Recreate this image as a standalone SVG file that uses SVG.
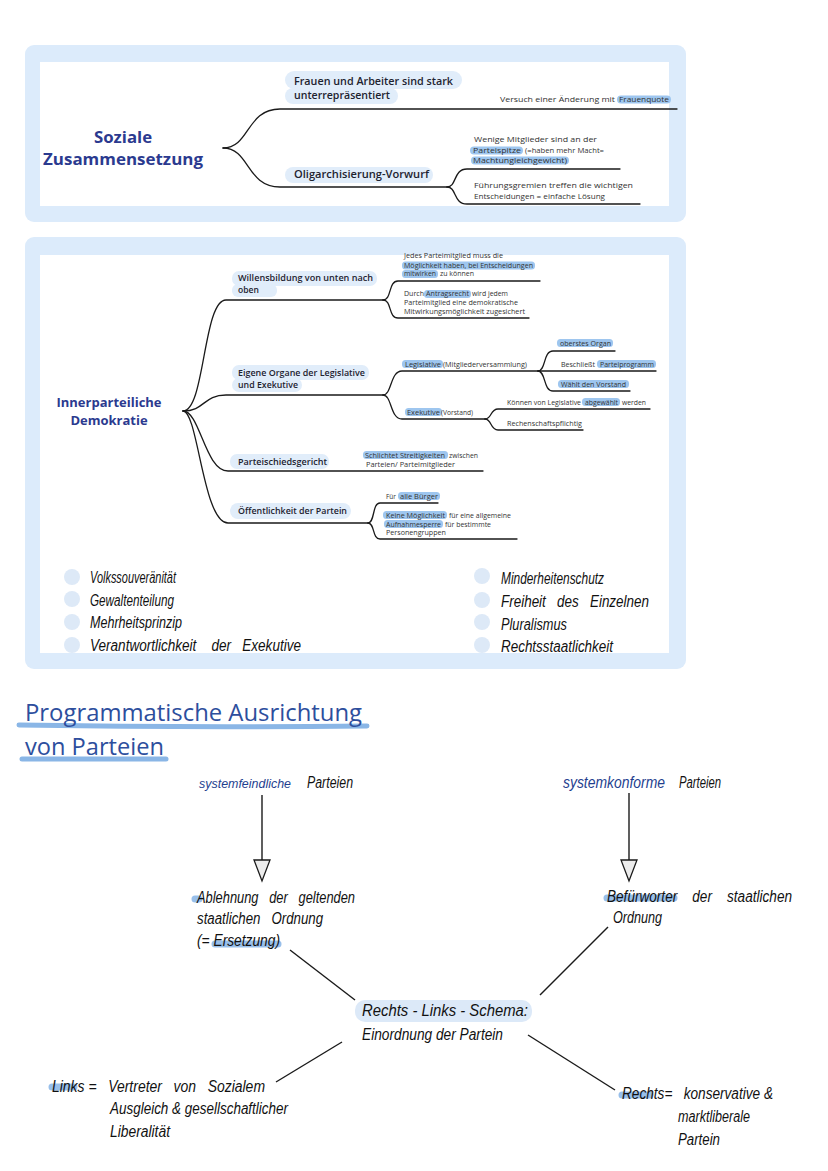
<svg xmlns="http://www.w3.org/2000/svg" width="828" height="1171" viewBox="0 0 828 1171">
<style>
.panel{fill:#dcebfb}
.inner{fill:#ffffff}
.root{font-family:"Open Sans","Noto Sans",sans-serif;font-weight:700;fill:#2b3a8f;text-anchor:middle}
.lbl{font-family:"Open Sans","Noto Sans",sans-serif;font-weight:600;fill:#1e2330}
.pill{fill:#e1edfa}
.sm{font-family:"Open Sans","Noto Sans",sans-serif;fill:#333}
.s8{font-size:8px}
.s7{font-size:6.8px}
.hl{fill:#9ec6ef}
.ln{fill:none;stroke:#1a1a1a;stroke-width:1.3;stroke-linecap:round}
.hw{font-family:"Liberation Sans","DejaVu Sans",sans-serif;font-style:italic;fill:#111;font-size:16px;white-space:pre}
.hwb{fill:#1f3f8f}
.dot{fill:#dde9f7}
.mk{fill:none;stroke:#86b4e6;stroke-width:7;stroke-linecap:round;opacity:0.85}
.title{font-family:"Open Sans","Noto Sans",sans-serif;fill:#2d4e9d;font-size:24px}
.ul{fill:none;stroke:#8ab6e6;stroke-width:5;stroke-linecap:round}
.cn{fill:none;stroke:#1a1a1a;stroke-width:1.4}
</style>

<!-- Panel 1 -->
<g id="panel-soziale">
<rect class="panel" x="25" y="45" width="661" height="177" rx="9"/>
<rect class="inner" x="40" y="62" width="629" height="144"/>
</g>
<g id="connectors-1">
<path class="ln" d="M223,148 C250,148 246,109 280,109 L677,109"/>
<path class="ln" d="M223,148 C250,148 246,187 280,187 L447,187"/>
<path class="ln" d="M447,187 C457,187 453,169 467,169 L620,169"/>
<path class="ln" d="M447,187 C457,187 453,204 467,204 L640,204"/>
</g>
<g id="n-soziale">
<text class="root" font-size="16.8" x="123" y="143">Soziale</text>
<text class="root" font-size="16.8" x="123" y="165" textLength="160" lengthAdjust="spacingAndGlyphs">Zusammensetzung</text>
</g>
<g id="n-frauen">
<rect class="pill" x="285" y="71" width="177" height="18" rx="9"/>
<rect class="pill" x="285" y="88" width="113" height="16" rx="8"/>
<text class="lbl" font-size="10.5" x="294" y="85" textLength="159" lengthAdjust="spacingAndGlyphs">Frauen und Arbeiter sind stark</text>
<text class="lbl" font-size="10.5" x="294" y="99" textLength="96" lengthAdjust="spacingAndGlyphs">unterrepräsentiert</text>
</g>
<g id="n-versuch">
<rect class="hl" x="617" y="95.5" width="54" height="8" rx="4"/>
<text class="sm s8" x="500" y="102" textLength="115" lengthAdjust="spacingAndGlyphs">Versuch einer Änderung mit</text>
<text class="sm s8" x="619" y="102" textLength="50" lengthAdjust="spacingAndGlyphs">Frauenquote</text>
</g>
<g id="n-oligarchie">
<rect class="pill" x="285" y="167" width="148" height="16" rx="8"/>
<text class="lbl" font-size="10.5" x="294" y="178" textLength="135" lengthAdjust="spacingAndGlyphs">Oligarchisierung-Vorwurf</text>
</g>
<g id="n-wenige">
<rect class="hl" x="470" y="146.5" width="53" height="8" rx="4"/>
<rect class="hl" x="471" y="156.5" width="98" height="8" rx="4"/>
<text class="sm s8" x="474" y="142" textLength="123" lengthAdjust="spacingAndGlyphs">Wenige Mitglieder sind an der</text>
<text class="sm s8" x="473" y="153" textLength="48" lengthAdjust="spacingAndGlyphs">Parteispitze</text>
<text class="sm s8" x="525" y="153" textLength="79" lengthAdjust="spacingAndGlyphs">(=haben mehr Macht=</text>
<text class="sm s8" x="473" y="163" textLength="94" lengthAdjust="spacingAndGlyphs">Machtungleichgewicht)</text>
</g>
<g id="n-fuehrung">
<text class="sm s8" x="474" y="188" textLength="159" lengthAdjust="spacingAndGlyphs">Führungsgremien treffen die wichtigen</text>
<text class="sm s8" x="474" y="199" textLength="131" lengthAdjust="spacingAndGlyphs">Entscheidungen = einfache Lösung</text>
</g>

<!-- Panel 2 -->
<g id="panel-demokratie">
<rect class="panel" x="25" y="237" width="661" height="432" rx="9"/>
<rect class="inner" x="40" y="255" width="629" height="398"/>
</g>
<g id="connectors-2">
<path class="ln" d="M183,411 C205,411 203,300 226,300 L383,300"/>
<path class="ln" d="M183,411 C205,411 203,395 226,395 L383,395"/>
<path class="ln" d="M183,411 C200,411 205,471 228,471 L483,471"/>
<path class="ln" d="M183,411 C198,411 203,523 228,523 L368,523"/>
<path class="ln" d="M383,300 C392,300 388,281 398,281 L540,281"/>
<path class="ln" d="M383,300 C392,300 388,318 398,318 L529,318"/>
<path class="ln" d="M383,395 C392,395 390,371 402,371 L538,371"/>
<path class="ln" d="M383,395 C392,395 390,419 402,419 L485,419"/>
<path class="ln" d="M538,371 C546,371 543,351 553,351 L615,351"/>
<path class="ln" d="M538,371 L656,371"/>
<path class="ln" d="M538,371 C546,371 543,391 553,391 L630,391"/>
<path class="ln" d="M485,419 C492,419 490,409 498,409 L650,409"/>
<path class="ln" d="M485,419 C492,419 490,430 498,430 L583,430"/>
<path class="ln" d="M368,523 C375,523 372,503 380,503 L438,503"/>
<path class="ln" d="M368,523 C375,523 372,539 380,539 L517,539"/>
</g>
<g id="n-innerpartei">
<text class="root" font-size="13" x="109" y="407">Innerparteiliche</text>
<text class="root" font-size="13" x="109" y="425">Demokratie</text>
</g>
<g id="n-willen">
<rect class="pill" x="232" y="271" width="145" height="15" rx="7"/>
<rect class="pill" x="232" y="284" width="45" height="13" rx="6"/>
<text class="lbl" font-size="8.5" x="238" y="281" textLength="135" lengthAdjust="spacingAndGlyphs">Willensbildung von unten nach</text>
<text class="lbl" font-size="8.5" x="238" y="293">oben</text>
</g>
<g id="n-jedes">
<rect class="hl" x="402" y="261.5" width="133" height="8" rx="3.5"/>
<rect class="hl" x="402" y="270" width="36" height="8" rx="3.5"/>
<text class="s7 sm" x="404" y="258" textLength="99" lengthAdjust="spacingAndGlyphs">Jedes Parteimitglied muss die</text>
<text class="s7 sm" x="404" y="267.5" textLength="129" lengthAdjust="spacingAndGlyphs">Möglichkeit haben, bei Entscheidungen</text>
<text class="s7 sm" x="404" y="276" textLength="32" lengthAdjust="spacingAndGlyphs">mitwirken</text>
<text class="s7 sm" x="440" y="276" textLength="34" lengthAdjust="spacingAndGlyphs">zu können</text>
</g>
<g id="n-durch">
<rect class="hl" x="424" y="290" width="47" height="8" rx="3.5"/>
<text class="s7 sm" x="404" y="296" textLength="20" lengthAdjust="spacingAndGlyphs">Durch</text>
<text class="s7 sm" x="426" y="296" textLength="43" lengthAdjust="spacingAndGlyphs">Antragsrecht</text>
<text class="s7 sm" x="472" y="296" textLength="36" lengthAdjust="spacingAndGlyphs">wird jedem</text>
<text class="s7 sm" x="404" y="305" textLength="114" lengthAdjust="spacingAndGlyphs">Parteimitglied eine demokratische</text>
<text class="s7 sm" x="404" y="313.5" textLength="121" lengthAdjust="spacingAndGlyphs">Mitwirkungsmöglichkeit zugesichert</text>
</g>
<g id="n-organe">
<rect class="pill" x="232" y="365" width="137" height="15" rx="7"/>
<rect class="pill" x="232" y="378" width="70" height="14" rx="7"/>
<text class="lbl" font-size="8.5" x="238" y="375.5" textLength="127" lengthAdjust="spacingAndGlyphs">Eigene Organe der Legislative</text>
<text class="lbl" font-size="8.5" x="238" y="388" textLength="60" lengthAdjust="spacingAndGlyphs">und Exekutive</text>
</g>
<g id="n-legislative">
<rect class="hl" x="402" y="360" width="41" height="8" rx="3.5"/>
<text class="s7 sm" x="405" y="366.5" textLength="36" lengthAdjust="spacingAndGlyphs">Legislative</text>
<text class="s7 sm" x="443" y="366.5" textLength="84" lengthAdjust="spacingAndGlyphs">(Mitgliederversammlung)</text>
</g>
<g id="n-oberstes">
<rect class="hl" x="557" y="339" width="56" height="8" rx="3.5"/>
<text class="s7 sm" x="560" y="345.5" textLength="51" lengthAdjust="spacingAndGlyphs">oberstes Organ</text>
</g>
<g id="n-beschliesst">
<rect class="hl" x="597" y="360" width="59" height="8" rx="3.5"/>
<text class="s7 sm" x="561" y="366.5" textLength="34" lengthAdjust="spacingAndGlyphs">Beschließt</text>
<text class="s7 sm" x="600" y="366.5" textLength="54" lengthAdjust="spacingAndGlyphs">Parteiprogramm</text>
</g>
<g id="n-waehlt">
<rect class="hl" x="558" y="380" width="71" height="8" rx="3.5"/>
<text class="s7 sm" x="561" y="386.5" textLength="65" lengthAdjust="spacingAndGlyphs">Wählt den Vorstand</text>
</g>
<g id="n-exekutive">
<rect class="hl" x="405" y="408" width="37" height="8" rx="3.5"/>
<text class="s7 sm" x="407" y="414.5" textLength="33" lengthAdjust="spacingAndGlyphs">Exekutive</text>
<text class="s7 sm" x="441" y="414.5" textLength="32" lengthAdjust="spacingAndGlyphs">(Vorstand)</text>
</g>
<g id="n-abgewaehlt">
<rect class="hl" x="582" y="398" width="38" height="8" rx="3.5"/>
<text class="s7 sm" x="507" y="404.5" textLength="74" lengthAdjust="spacingAndGlyphs">Können von Legislative</text>
<text class="s7 sm" x="585" y="404.5" textLength="33" lengthAdjust="spacingAndGlyphs">abgewählt</text>
<text class="s7 sm" x="622" y="404.5" textLength="24" lengthAdjust="spacingAndGlyphs">werden</text>
</g>
<g id="n-rechenschaft">
<text class="s7 sm" x="507" y="425.5" textLength="75" lengthAdjust="spacingAndGlyphs">Rechenschaftspflichtig</text>
</g>
<g id="n-schied">
<rect class="pill" x="230" y="454" width="99" height="15" rx="7"/>
<text class="lbl" font-size="8.5" x="238" y="464.5" textLength="89" lengthAdjust="spacingAndGlyphs">Parteischiedsgericht</text>
</g>
<g id="n-schlichtet">
<rect class="hl" x="363" y="451" width="85" height="8" rx="3.5"/>
<text class="s7 sm" x="365" y="457.5" textLength="80" lengthAdjust="spacingAndGlyphs">Schlichtet Streitigkeiten</text>
<text class="s7 sm" x="449" y="457.5" textLength="29" lengthAdjust="spacingAndGlyphs">zwischen</text>
<text class="s7 sm" x="366" y="466.5" textLength="89" lengthAdjust="spacingAndGlyphs">Parteien/ Parteimitglieder</text>
</g>
<g id="n-oeffentlich">
<rect class="pill" x="230" y="503" width="121" height="16" rx="8"/>
<text class="lbl" font-size="8.5" x="238" y="514" textLength="109" lengthAdjust="spacingAndGlyphs">Öffentlichkeit der Partein</text>
</g>
<g id="n-fuer">
<rect class="hl" x="398" y="492" width="42" height="8" rx="3.5"/>
<text class="s7 sm" x="386" y="498.5" textLength="10" lengthAdjust="spacingAndGlyphs">Für</text>
<text class="s7 sm" x="400" y="498.5" textLength="38" lengthAdjust="spacingAndGlyphs">alle Bürger</text>
</g>
<g id="n-keine">
<rect class="hl" x="383" y="511" width="64" height="8" rx="3.5"/>
<rect class="hl" x="384" y="520" width="59" height="8" rx="3.5"/>
<text class="s7 sm" x="386" y="517.5" textLength="59" lengthAdjust="spacingAndGlyphs">Keine Möglichkeit</text>
<text class="s7 sm" x="449" y="517.5" textLength="62" lengthAdjust="spacingAndGlyphs">für eine allgemeine</text>
<text class="s7 sm" x="386" y="526.5" textLength="55" lengthAdjust="spacingAndGlyphs">Aufnahmesperre</text>
<text class="s7 sm" x="445" y="526.5" textLength="46" lengthAdjust="spacingAndGlyphs">für bestimmte</text>
<text class="s7 sm" x="386" y="535" textLength="60" lengthAdjust="spacingAndGlyphs">Personengruppen</text>
</g>

<g id="n-prinzipien-links">
<circle class="dot" cx="72" cy="577" r="8"/>
<circle class="dot" cx="72" cy="599" r="8"/>
<circle class="dot" cx="72" cy="622" r="8"/>
<circle class="dot" cx="72" cy="645" r="8"/>
<text class="hw" x="90" y="583" textLength="86" lengthAdjust="spacingAndGlyphs">Volkssouveränität</text>
<text class="hw" x="90" y="606" textLength="84" lengthAdjust="spacingAndGlyphs">Gewaltenteilung</text>
<text class="hw" x="90" y="628" textLength="92" lengthAdjust="spacingAndGlyphs">Mehrheitsprinzip</text>
<text class="hw" x="90" y="651" textLength="211" lengthAdjust="spacingAndGlyphs" xml:space="preserve">Verantwortlichkeit    der   Exekutive</text>
</g>
<g id="n-prinzipien-rechts">
<circle class="dot" cx="482" cy="576" r="8"/>
<circle class="dot" cx="482" cy="600" r="8"/>
<circle class="dot" cx="482" cy="622" r="8"/>
<circle class="dot" cx="482" cy="645" r="8"/>
<text class="hw" x="501" y="584" textLength="103" lengthAdjust="spacingAndGlyphs">Minderheitenschutz</text>
<text class="hw" x="501" y="607" textLength="148" lengthAdjust="spacingAndGlyphs" xml:space="preserve">Freiheit   des   Einzelnen</text>
<text class="hw" x="501" y="630" textLength="66" lengthAdjust="spacingAndGlyphs">Pluralismus</text>
<text class="hw" x="501" y="652" textLength="112" lengthAdjust="spacingAndGlyphs">Rechtsstaatlichkeit</text>
</g>

<!-- Section 3 -->
<g id="n-title">
<path class="ul" d="M19,725 Q190,728 367,726"/>
<path class="ul" d="M22,759 L166,759"/>
<text class="title" x="25" y="721" textLength="337" lengthAdjust="spacingAndGlyphs">Programmatische Ausrichtung</text>
<text class="title" x="25" y="755" textLength="139" lengthAdjust="spacingAndGlyphs">von Parteien</text>
</g>

<g id="connectors-3">
<line class="cn" x1="262" y1="795" x2="262" y2="860"/>
<polygon points="254,860 270,860 262,881" fill="#ececec" stroke="#1a1a1a" stroke-width="1.3"/>
<line class="cn" x1="629" y1="793" x2="629" y2="860"/>
<polygon points="621,860 637,860 629,881" fill="#ececec" stroke="#1a1a1a" stroke-width="1.3"/>
<line class="cn" x1="290" y1="950" x2="355" y2="1000"/>
<line class="cn" x1="608" y1="927" x2="540" y2="995"/>
<line class="cn" x1="342" y1="1042" x2="276" y2="1082"/>
<line class="cn" x1="528" y1="1035" x2="615" y2="1090"/>
</g>

<g id="n-systemfeindlich">
<text class="hw hwb" x="199" y="788" style="font-size:13.5px" textLength="92" lengthAdjust="spacingAndGlyphs">systemfeindliche</text>
<text class="hw" x="307" y="788" textLength="46" lengthAdjust="spacingAndGlyphs">Parteien</text>
</g>
<g id="n-systemkonform">
<text class="hw hwb" x="563" y="788" textLength="102" lengthAdjust="spacingAndGlyphs">systemkonforme</text>
<text class="hw" x="679" y="788" textLength="42" lengthAdjust="spacingAndGlyphs">Parteien</text>
</g>
<g id="n-ablehnung">
<path class="mk" d="M195,899 L199,899"/>
<path class="mk" d="M215,944 L278,944"/>
<text class="hw" x="197" y="903" textLength="158" lengthAdjust="spacingAndGlyphs" xml:space="preserve">Ablehnung   der   geltenden</text>
<text class="hw" x="197" y="924" textLength="126" lengthAdjust="spacingAndGlyphs" xml:space="preserve">staatlichen   Ordnung</text>
<text class="hw" x="197" y="946" textLength="83" lengthAdjust="spacingAndGlyphs">(= Ersetzung)</text>
</g>
<g id="n-befuerworter">
<path class="mk" d="M607,898 L674,898"/>
<text class="hw" x="607" y="902" textLength="185" lengthAdjust="spacingAndGlyphs" xml:space="preserve">Befürworter    der    staatlichen</text>
<text class="hw" x="613" y="923" textLength="49" lengthAdjust="spacingAndGlyphs">Ordnung</text>
</g>
<g id="n-schema">
<rect x="355" y="1000" width="177" height="22" rx="10" fill="#dce9f8"/>
<text class="hw" x="362" y="1016" textLength="166" lengthAdjust="spacingAndGlyphs">Rechts - Links - Schema:</text>
<text class="hw" x="362" y="1040" textLength="141" lengthAdjust="spacingAndGlyphs">Einordnung der Partein</text>
</g>
<g id="n-links">
<path class="mk" d="M52,1087 L74,1087"/>
<text class="hw" x="52" y="1092" textLength="213" lengthAdjust="spacingAndGlyphs" xml:space="preserve">Links =   Vertreter   von   Sozialem</text>
<text class="hw" x="110" y="1114" textLength="178" lengthAdjust="spacingAndGlyphs">Ausgleich &amp; gesellschaftlicher</text>
<text class="hw" x="110" y="1137" textLength="60" lengthAdjust="spacingAndGlyphs">Liberalität</text>
</g>
<g id="n-rechts">
<path class="mk" d="M622,1095 L650,1095"/>
<text class="hw" x="622" y="1099" textLength="151" lengthAdjust="spacingAndGlyphs" xml:space="preserve">Rechts=   konservative &amp;</text>
<text class="hw" x="678" y="1122" textLength="72" lengthAdjust="spacingAndGlyphs">marktliberale</text>
<text class="hw" x="678" y="1145" textLength="42" lengthAdjust="spacingAndGlyphs">Partein</text>
</g>
</svg>
